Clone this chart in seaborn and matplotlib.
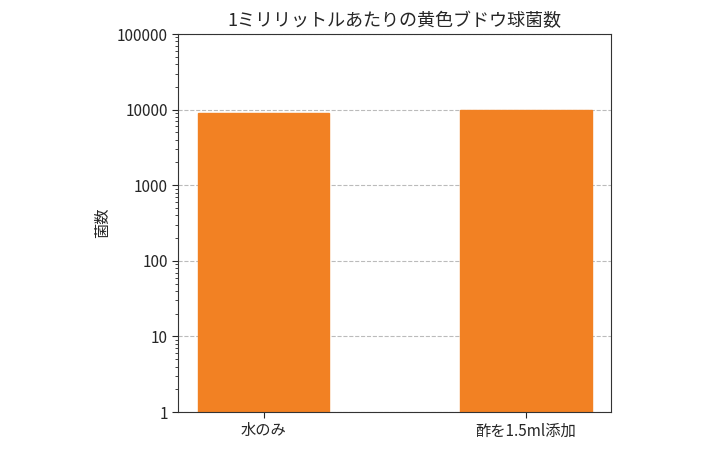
import matplotlib
matplotlib.use("Agg")
import matplotlib.pyplot as plt
import matplotlib.ticker as mticker
import seaborn as sns
import pandas as pd

categories = ["水のみ", "酢を1.5ml添加"]
counts = [9000, 10000]
yticks = [1, 10, 100, 1000, 10000, 100000]
title = "1ミリリットルあたりの黄色ブドウ球菌数"
ylabel = "菌数"

sns.set_style("white")
plt.rcParams['font.family'] = ['Noto Sans CJK JP', 'DejaVu Sans']

df = pd.DataFrame({"cat": categories, "val": counts})

fig = plt.figure(figsize=(7.1, 4.5), dpi=100)
ax = fig.add_axes([0.251, 0.0844, 0.61, 0.84])
ax.set_yscale("log")
sns.barplot(data=df, x="cat", y="val", color="#f28123", saturation=1,
            width=0.5, ax=ax, edgecolor="#f28123")
ax.set_ylim(1, 100000)
ax.set_xlim(-0.325, 1.325)
ax.set_yticks(yticks)
ax.yaxis.set_major_formatter(mticker.FuncFormatter(lambda v, p: f"{int(round(v))}"))
ax.yaxis.set_minor_formatter(mticker.NullFormatter())
ax.tick_params(axis="y", which="major", left=True, length=4, labelsize=11)
ax.tick_params(axis="y", which="minor", left=True, length=2)
ax.tick_params(axis="x", bottom=True, length=4, labelsize=11)
ax.grid(axis="y", which="major", linestyle="--", color="#bbbbbb", linewidth=0.8)
ax.set_axisbelow(True)
for s in ax.spines.values():
    s.set_color("#333333")
    s.set_visible(True)
ax.set_xlabel("")
ax.set_ylabel(ylabel, fontsize=11)
ax.set_title(title, fontsize=13)
fig.savefig("out.png", dpi=100)
